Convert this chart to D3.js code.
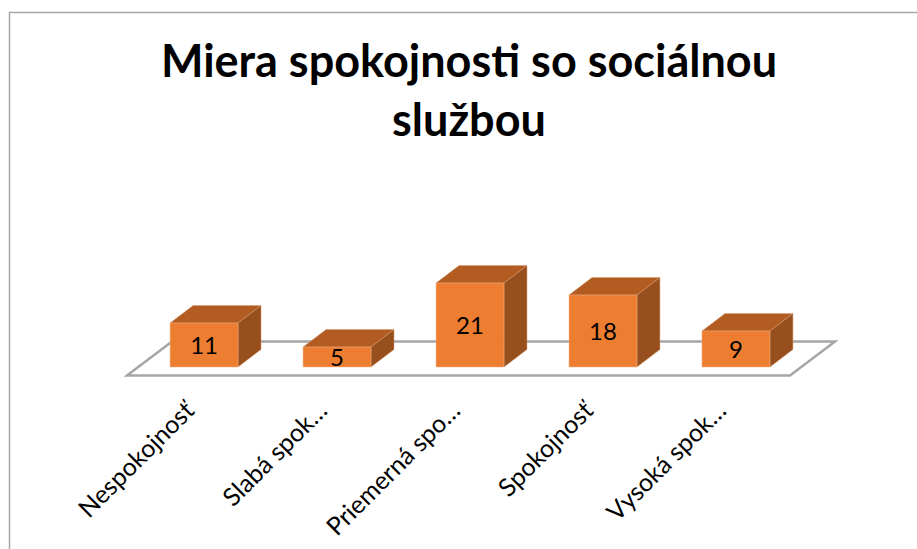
<!DOCTYPE html>
<html>
<head>
<meta charset="utf-8">
<script src="https://cdn.jsdelivr.net/npm/d3@7"></script>
<style>
  html, body { margin: 0; padding: 0; background: #fff; }
  svg { display: block; }
</style>
</head>
<body>
<div id="chart-area"></div>
<script>
const categories = ['Nespokojnosť', 'Slabá spok…', 'Priemerná spo…', 'Spokojnosť', 'Vysoká spok…'];
const values = [11, 5, 21, 18, 9];
const titleLines = ['Miera spokojnosti so sociálnou', 'službou'];

const svgWidth = 917;
const svgHeight = 549;
const baseY = 367;
const depthX = 23;
const depthY = 17.5;
const fontName = 'Lato';

const svg = d3.select('#chart-area')
  .append('svg')
    .attr('width', svgWidth)
    .attr('height', svgHeight);

// frame of the slide, only top and left are visible
svg.append('path')
  .attr('d', `M9.5,${svgHeight}V12.5H${svgWidth}`)
  .attr('fill', 'none')
  .attr('stroke', '#a6a6a6')
  .attr('stroke-width', 1.5);

svg.selectAll('.title')
  .data(titleLines)
  .enter()
  .append('text')
    .attr('class', 'title')
    .text(d => d)
    .attr('x', 469)
    .attr('y', (d, i) => 77 + i * 59)
    .attr('text-anchor', 'middle')
    .attr('font-family', fontName)
    .attr('font-size', 45)
    .attr('font-weight', 700)
    .attr('fill', '#000');

const x = d3.scaleBand()
  .domain(categories)
  .range([137.5, 802.5])
  .paddingInner(0.489)
  .paddingOuter(0.245);

const y = d3.scaleLinear()
  .domain([0, 21])
  .range([baseY, 283]);

// floor of the 3d plot
svg.append('path')
  .attr('d', `M127,375.5H790L835,341.5H172Z`)
  .attr('fill', '#fff')
  .attr('stroke', '#a6a6a6')
  .attr('stroke-width', 2.5);

const rows = categories.map((c, i) => ({ c, v: values[i] }));
const bars = svg.selectAll('.bar')
  .data(rows)
  .enter()
  .append('g')
    .attr('class', 'bar');

bars.append('path')
  .attr('d', d => {
    const x0 = x(d.c), x1 = x0 + x.bandwidth(), top = y(d.v);
    return `M${x0},${top}L${x0 + depthX},${top - depthY}H${x1 + depthX}L${x1},${top}Z`;
  })
  .attr('fill', '#b35c22')
  .attr('stroke', '#d99a70')
  .attr('stroke-width', 0.5);

bars.append('path')
  .attr('d', d => {
    const x1 = x(d.c) + x.bandwidth(), top = y(d.v);
    return `M${x1},${top}L${x1 + depthX},${top - depthY}V${baseY - depthY}L${x1},${baseY}Z`;
  })
  .attr('fill', '#97501d')
  .attr('stroke', '#d99a70')
  .attr('stroke-width', 0.5);

bars.append('rect')
  .attr('x', d => x(d.c))
  .attr('y', d => y(d.v))
  .attr('width', x.bandwidth())
  .attr('height', d => baseY - y(d.v))
  .attr('fill', '#ed7d31')
  .attr('stroke', '#f4b183')
  .attr('stroke-width', 0.5);

bars.append('text')
  .text(d => d.v)
  .attr('x', d => x(d.c) + x.bandwidth() / 2)
  .attr('y', d => Math.min((y(d.v) + baseY) / 2 + 8.5, baseY + 1))
  .attr('text-anchor', 'middle')
  .attr('font-family', fontName)
  .attr('font-size', 24)
  .attr('fill', '#000');

const axis = svg.append('g')
  .attr('transform', 'translate(0,383)')
  .call(d3.axisBottom(x).tickSize(0));
axis.select('.domain').remove();
axis.selectAll('text')
  .attr('x', -26.5)
  .attr('y', 14.8)
  .attr('dy', 0)
  .attr('transform', 'rotate(-45)')
  .attr('text-anchor', 'end')
  .attr('font-family', fontName)
  .attr('font-size', 25)
  .attr('fill', '#000');
</script>
</body>
</html>
